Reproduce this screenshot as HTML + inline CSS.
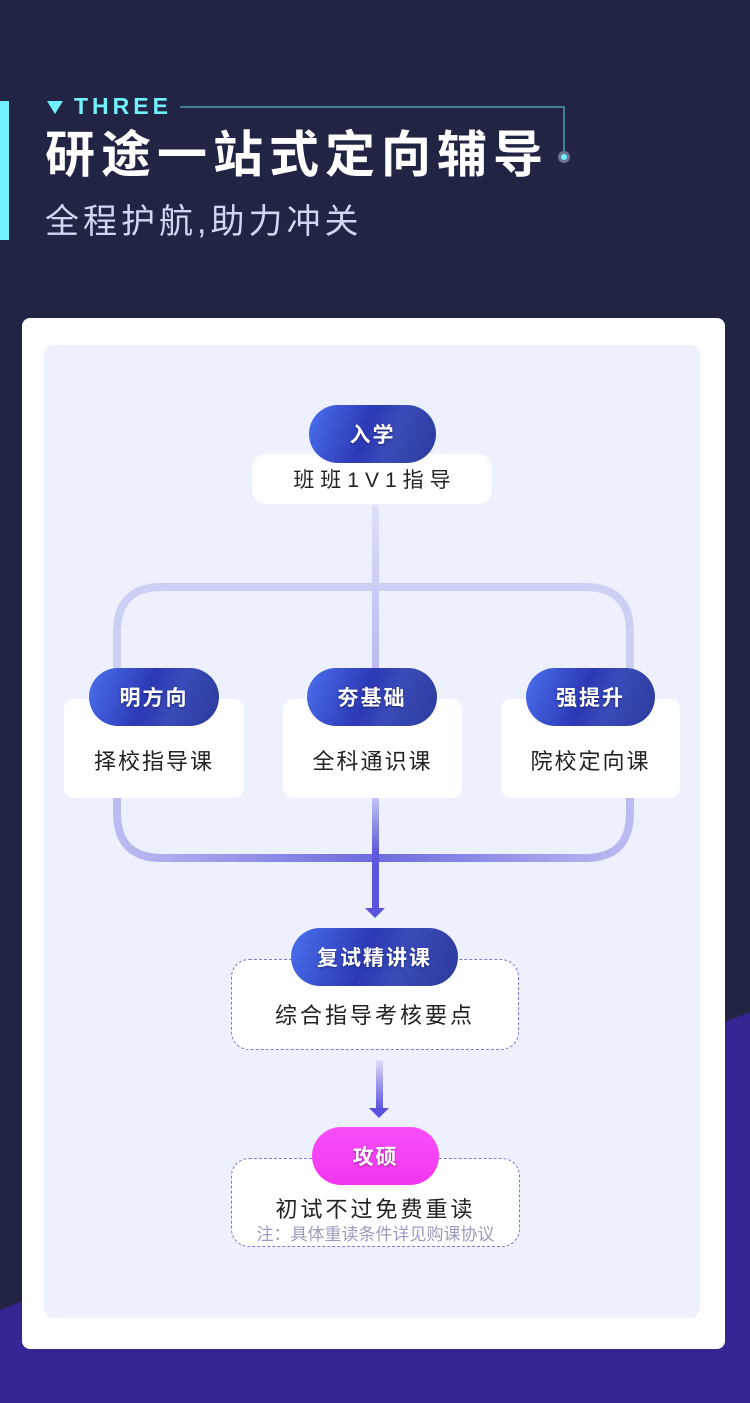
<!DOCTYPE html>
<html><head><meta charset="utf-8"><style>
*{margin:0;padding:0;box-sizing:border-box}
body{width:750px;height:1403px;background:#212443;position:relative;overflow:hidden;font-family:"Liberation Sans","Noto Sans CJK SC",sans-serif}
.abs{position:absolute}
.pill{position:absolute;height:58px;border-radius:29px;color:#fff;font-size:21px;font-weight:bold;display:flex;align-items:center;justify-content:center;letter-spacing:2px;background:linear-gradient(110deg,#4b70ee 0%,#2c38b5 45%,#3a4bb8 65%,#2c3a9c 100%);text-shadow:0 1px 2px rgba(0,0,0,.4)}
.box{position:absolute;background:#fff;border-radius:10px;display:flex;align-items:center;justify-content:center;color:#222;font-size:22px;letter-spacing:2px}
.dash{position:absolute;border:1.5px dashed #7a78e6;border-radius:18px;background:#fff}
</style></head><body>
<svg class="abs" style="left:0;top:0" width="750" height="1403">
<polygon points="0,1310 750,1012 750,1403 0,1403" fill="#312692"/>
<rect x="0" y="101" width="9" height="139" fill="#72f0fb"/>
<polygon points="47,101 63,101 55,114" fill="#72f0fb"/>
<polyline points="180,107 564,107 564,157" fill="none" stroke="#4a9cae" stroke-width="1.5"/>
<circle cx="564" cy="157" r="6" fill="#6a7490"/><circle cx="564" cy="157" r="3" fill="#72f0fb"/>
</svg>
<div class="abs" style="left:74px;top:93px;color:#72f0fb;font-size:23px;font-weight:bold;letter-spacing:4px">THREE</div>
<div class="abs" style="left:45px;top:122px;color:#fff;font-size:50px;font-weight:bold;letter-spacing:6px;line-height:66px">研途一站式定向辅导</div>
<div class="abs" style="left:45px;top:200px;color:#d0d6f4;font-size:34px;letter-spacing:4px;line-height:44px">全程护航,助力冲关</div>

<div class="abs" style="left:22px;top:318px;width:703px;height:1031px;background:#fff;border-radius:8px"></div>
<div class="abs" style="left:44px;top:345px;width:656px;height:973px;background:#edf1fd;border-radius:10px"></div>

<svg class="abs" style="left:0;top:0" width="750" height="1403">
<defs>
<linearGradient id="v1" x1="0" y1="0" x2="0" y2="1"><stop offset="0" stop-color="#dde0f8"/><stop offset="1" stop-color="#b9b9f0"/></linearGradient>
<linearGradient id="bot" x1="0" y1="0" x2="1" y2="0"><stop offset="0" stop-color="#bcbcf2"/><stop offset=".5" stop-color="#6d6ade"/><stop offset="1" stop-color="#bcbcf2"/></linearGradient>
<linearGradient id="v2" x1="0" y1="0" x2="0" y2="1"><stop offset="0" stop-color="#c8c8f4"/><stop offset=".5" stop-color="#5e58dc"/><stop offset="1" stop-color="#5a52dc"/></linearGradient>
<linearGradient id="v3" x1="0" y1="0" x2="0" y2="1"><stop offset="0" stop-color="#dcdcf8"/><stop offset="1" stop-color="#5a52dc"/></linearGradient>
</defs>
<path d="M117,680 L117,632 Q117,587 162,587 L585,587 Q630,587 630,632 L630,680" fill="none" stroke="#cdd0f5" stroke-width="8"/>
<rect x="372" y="505" width="7" height="170" fill="url(#v1)"/>
<path d="M117,790 L117,813 Q117,858 162,858 L585,858 Q630,858 630,813 L630,790" fill="none" stroke="url(#bot)" stroke-width="8"/>
<rect x="372" y="795" width="7" height="115" fill="url(#v2)"/>
<polygon points="365,908 385,908 375,918" fill="#5a52dc"/>
<rect x="376" y="1060" width="7" height="50" fill="url(#v3)"/>
<polygon points="369,1108 389,1108 379,1118" fill="#5a52dc"/>
</svg>

<div class="box" style="left:252px;top:454px;width:240px;height:50px;border-radius:14px;font-size:21px;letter-spacing:6px;padding-left:6px">班班1V1指导</div>
<div class="pill" style="left:309px;top:405px;width:127px">入学</div>

<div class="box" style="left:64px;top:699px;width:180px;height:99px;padding-top:22px">择校指导课</div>
<div class="box" style="left:283px;top:699px;width:179px;height:99px;padding-top:22px">全科通识课</div>
<div class="box" style="left:501px;top:699px;width:179px;height:99px;padding-top:22px">院校定向课</div>
<div class="pill" style="left:89px;top:668px;width:130px">明方向</div>
<div class="pill" style="left:307px;top:668px;width:130px">夯基础</div>
<div class="pill" style="left:526px;top:668px;width:129px">强提升</div>

<div class="dash" style="left:231px;top:959px;width:288px;height:91px"></div>
<div class="abs" style="left:231px;top:998px;width:288px;text-align:center;font-size:22px;color:#222;letter-spacing:3px">综合指导考核要点</div>
<div class="pill" style="left:291px;top:928px;width:167px">复试精讲课</div>

<div class="dash" style="left:231px;top:1158px;width:289px;height:89px"></div>
<div class="abs" style="left:231px;top:1192px;width:289px;text-align:center;font-size:22px;color:#222;letter-spacing:3px">初试不过免费重读</div>
<div class="abs" style="left:231px;top:1220px;width:289px;text-align:center;font-size:17px;color:#9a9cc0">注：具体重读条件详见购课协议</div>
<div class="pill" style="left:312px;top:1127px;width:127px;background:linear-gradient(180deg,#f84ffa,#f236ef)">攻硕</div>
</body></html>
